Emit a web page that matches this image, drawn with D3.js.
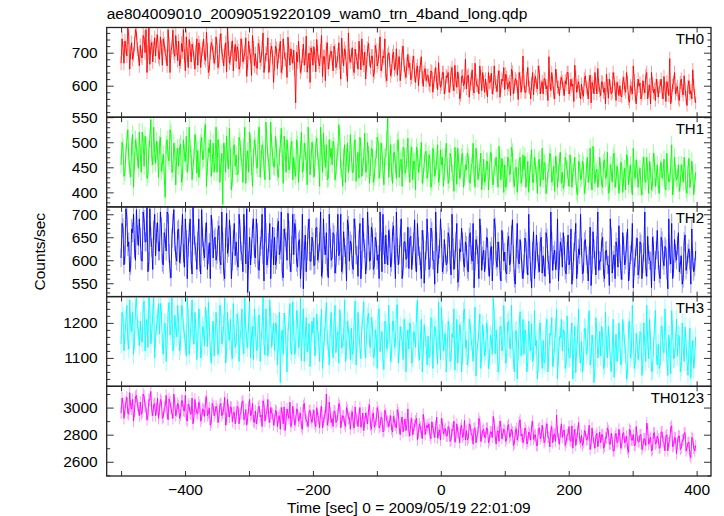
<!DOCTYPE html>
<html>
<head>
<meta charset="utf-8">
<script src="https://cdn.jsdelivr.net/npm/d3@7"></script>
<style>
  html, body { margin: 0; padding: 0; background: #fff; }
  svg { display: block; }
  text { font-family: "Liberation Sans", Arial, Helvetica, sans-serif; }
</style>
</head>
<body>
<svg id="chart" width="724" height="516"></svg>
<script>
// ---------------- data ----------------
const title = "ae804009010_20090519220109_wam0_trn_4band_long.qdp";
const xLabel = "Time [sec] 0 = 2009/05/19 22:01:09";
const yLabel = "Counts/sec";
const bandNames = ["TH0", "TH1", "TH2", "TH3", "TH0123"];
const timeStart = -500;   // time of first bin (sec)
const timeStep = 1.5;     // bin spacing (sec)
const errBinSec = 1.5;    // exposure used for Poisson error bars
const xTicks = [-500, -400, -300, -200, -100, 0, 100, 200, 300, 400];
const xTickLabels = [-400, -200, 0, 200, 400];

// each band: even bins (A) and odd bins (B), interleaved in time
const th0A = [
668,712,735,690,748,701,680,726,760,695,
722,684,745,770,700,665,731,712,690,754,
680,716,742,698,660,725,707,768,689,714,
735,672,703,690,748,655,712,726,684,701,
662,718,694,741,676,708,650,731,699,685,
720,671,758,690,705,642,712,684,736,698,
674,705,660,722,688,745,669,700,631,714,
697,652,718,680,760,671,694,640,708,686,
668,712,690,735,655,703,679,747,662,690,
708,548,672,690,655,726,684,641,699,715,
662,690,740,671,705,628,688,712,650,697,
683,720,655,692,672,744,660,701,613,688,
690,652,711,676,735,648,680,702,664,728,
655,689,640,706,672,748,661,684,630,692,
678,645,702,660,632,688,651,720,640,666,
655,618,670,632,648,600,662,625,641,615,
632,598,641,610,655,588,622,604,640,596,
625,580,640,603,662,595,618,571,630,608,
590,632,605,648,578,616,601,660,585,612,
620,566,609,638,592,611,582,645,600,614,
588,625,603,570,641,597,615,558,622,605,
612,580,655,594,606,572,628,590,640,598,
575,620,600,688,585,611,560,630,596,608,
612,570,604,640,588,598,552,625,600,582,
605,568,630,590,612,548,598,640,575,601,
570,610,592,635,562,598,580,620,555,594,
600,566,625,580,610,550,592,660,572,588,
598,560,615,578,640,585,545,605,590,620,
565,600,580,628,552,595,682,570,610,575,
598,555,620,572,590,540,615,585,648,570];
const th0B = [
742,668,715,776,650,730,695,770,712,660,
690,752,700,640,775,718,672,745,735,688,
748,662,725,690,770,640,718,700,752,676,
660,728,770,645,695,740,672,710,650,742,
730,655,712,685,762,640,700,720,668,748,
655,735,700,660,730,776,668,712,645,725,
718,650,742,672,700,628,735,690,752,660,
655,728,670,712,640,698,745,662,720,610,
720,652,705,640,742,680,625,700,712,668,
650,702,735,640,690,662,750,675,610,700,
718,642,700,660,752,688,615,730,672,705,
645,705,668,730,620,690,712,650,760,672,
715,640,688,650,700,742,662,620,712,680,
690,628,722,660,705,645,690,742,615,700,
630,690,648,712,670,615,700,662,625,695,
668,625,690,610,660,640,688,598,652,630,
605,645,580,632,612,670,595,640,575,630,
640,598,655,585,620,642,560,628,600,680,
628,565,620,590,668,600,575,628,640,580,
590,640,612,575,660,600,628,565,620,655,
635,590,612,650,575,622,598,640,580,690,
580,622,598,560,640,615,600,660,575,612,
622,590,555,610,640,578,650,595,570,625,
590,615,640,575,620,605,662,580,612,560,
578,620,596,560,632,610,575,605,652,585,
612,580,545,600,620,575,640,590,610,570,
570,610,590,640,560,600,575,615,545,620,
608,572,595,630,560,602,640,578,555,600,
595,620,560,590,612,570,545,602,640,588,
560,610,585,630,565,598,575,560,600,548];

const th1A = [
455,488,440,502,470,431,515,462,490,448,
478,520,452,493,436,507,470,530,458,484,
495,442,476,390,505,463,518,447,482,470,
452,496,430,478,512,460,488,425,470,500,
484,445,510,468,535,450,479,432,498,462,
440,490,455,376,482,512,447,470,428,495,
475,438,502,460,490,418,483,520,452,470,
492,448,530,466,485,425,505,460,540,472,
450,488,430,497,468,512,440,480,455,502,
470,432,495,458,520,446,482,415,490,465,
485,450,508,462,530,440,478,495,428,470,
455,492,438,480,512,445,470,420,498,462,
478,440,505,460,428,490,452,518,446,475,
450,486,430,470,500,445,482,415,472,548,
462,440,478,455,500,430,466,490,438,470,
448,476,425,462,490,440,470,418,458,482,
440,466,420,478,445,495,430,455,412,470,
452,425,470,438,490,416,460,442,478,430,
445,470,418,458,435,488,426,450,405,466,
430,462,440,478,415,452,436,492,425,448,
455,420,468,438,480,412,450,432,470,428,
445,410,462,436,485,420,452,398,466,440,
425,458,412,446,470,430,402,455,438,480,
440,418,462,428,475,410,448,432,395,458,
430,455,412,470,436,422,492,418,446,428,
445,410,465,432,398,455,420,478,425,440,
418,452,430,405,468,436,415,488,428,445,
435,410,455,425,470,398,442,418,462,430,
415,448,428,466,405,440,422,495,412,438,
430,402,455,420,445,398,468,425,440,418];
const th1B = [
500,432,478,525,445,492,410,505,470,520,
440,498,512,428,485,545,455,480,502,430,
510,455,432,495,470,525,440,498,415,488,
490,420,505,462,440,530,475,452,515,438,
430,498,465,520,412,488,505,458,440,530,
505,420,478,498,440,465,528,405,490,452,
435,510,470,420,530,465,440,498,412,505,
455,515,430,495,448,540,470,425,498,452,
512,440,470,528,418,482,505,445,492,425,
445,505,420,485,440,498,462,530,435,500,
430,495,470,412,490,518,450,425,505,488,
502,425,470,535,448,412,495,470,440,515,
440,498,422,480,510,432,470,440,500,418,
488,420,465,510,428,498,445,470,505,430,
495,418,480,428,505,462,412,488,445,508,
420,490,462,405,480,455,500,432,478,428,
475,410,488,432,462,420,485,470,440,498,
418,478,440,402,465,488,428,470,410,455,
478,420,452,498,410,465,440,478,432,420,
462,405,480,425,450,470,410,458,468,400,
410,470,435,490,425,448,400,462,418,475,
472,428,400,458,420,470,435,462,412,488,
460,398,440,478,420,452,472,410,462,418,
408,470,445,412,455,440,470,400,462,425,
462,398,445,420,488,405,455,440,410,470,
415,460,428,480,402,442,470,410,452,398,
460,400,448,475,415,455,395,440,465,410,
448,395,470,420,440,462,405,478,412,455,
398,460,440,410,478,420,452,395,470,425,
455,418,440,470,405,448,410,462,395,440];

const th2A = [
605,670,612,695,640,588,660,625,710,632,
650,598,688,640,575,712,628,665,610,682,
620,672,590,648,705,615,562,680,640,598,
668,612,700,585,645,628,690,570,655,618,
642,595,710,620,660,580,638,698,605,650,
612,675,590,640,560,702,628,655,598,680,
640,585,668,612,700,592,530,650,625,690,
605,660,578,645,612,715,590,638,560,672,
650,600,685,622,575,668,640,702,595,632,
612,668,585,645,600,538,655,620,690,598,
640,590,672,615,705,580,632,660,562,648,
605,655,590,700,620,575,662,612,688,598,
635,580,670,610,645,560,692,625,598,655,
600,660,588,640,612,705,575,632,655,590,
648,595,675,560,628,612,690,585,640,605,
582,652,610,688,575,630,598,665,550,622,
640,585,662,600,705,572,625,648,590,615,
595,650,568,628,602,680,560,618,640,585,
632,575,660,598,540,645,612,690,578,622,
600,648,565,630,610,672,585,620,555,642,
618,570,652,595,688,560,625,602,645,580,
592,640,568,625,540,662,600,618,575,650,
610,565,648,590,705,578,622,598,555,640,
585,632,570,655,600,548,618,680,590,612,
628,575,645,592,610,545,662,600,632,578,
598,650,560,622,590,690,572,612,640,585,
615,558,632,600,668,575,620,540,605,648,
580,635,592,705,565,612,598,650,555,622,
600,560,642,588,625,538,610,680,582,615,
632,575,610,560,655,590,625,548,600,585];
const th2B = [
680,590,712,630,575,668,700,600,655,690,
600,705,640,715,598,650,580,700,660,620,
705,595,660,620,700,580,648,710,610,665,
595,655,615,690,560,660,600,715,632,580,
690,570,650,605,682,612,560,670,645,600,
665,600,705,575,650,615,688,560,645,610,
598,700,620,575,655,712,600,590,670,612,
690,580,630,700,555,660,605,680,625,590,
590,670,612,705,562,650,600,665,575,700,
680,595,640,560,700,620,575,668,598,650,
588,670,600,640,565,690,612,585,700,600,
660,572,640,610,700,590,628,555,675,642,
590,690,612,565,680,600,640,570,705,598,
672,580,650,600,560,640,700,592,612,665,
585,662,612,705,590,650,560,640,602,672,
648,580,640,595,680,610,560,645,598,690,
580,670,600,548,640,612,690,575,645,590,
660,600,700,580,640,552,625,670,595,640,
580,650,612,680,598,632,560,655,610,575,
650,585,620,555,690,600,640,578,665,598,
575,640,590,655,612,548,680,592,620,560,
648,590,700,575,620,560,655,592,640,572,
585,660,600,550,640,612,580,690,600,628,
660,578,620,590,668,575,640,560,625,700,
570,640,610,555,672,590,625,568,705,600,
640,572,620,590,545,650,600,560,628,675,
578,660,590,640,555,612,680,585,630,568,
640,560,618,585,652,600,540,632,600,665,
570,650,600,630,578,690,592,560,645,600,
660,590,548,640,578,615,600,668,575,620];

const th3A = [
1140,1215,1168,1250,1125,1198,1230,1150,1275,1180,
1205,1145,1262,1190,1130,1240,1172,1275,1155,1210,
1168,1230,1110,1195,1150,1258,1182,1120,1222,1160,
1198,1135,1240,1170,1105,1215,1155,1265,1140,1185,
1150,1212,1120,1178,1245,1132,1190,1085,1205,1162,
1185,1130,1228,1160,1270,1118,1175,1210,1098,1168,
1140,1205,1155,1240,1112,1185,1130,1260,1160,1095,
1190,1128,1222,1150,1275,1108,1178,1140,1215,1165,
1120,1195,1142,1030,1180,1228,1135,1172,1255,1110,
1178,1125,1210,1150,1092,1240,1160,1118,1198,1145,
1170,1105,1225,1148,1190,1070,1162,1258,1130,1185,
1140,1200,1115,1175,1238,1128,1160,1090,1205,1150,
1185,1120,1262,1145,1172,1098,1210,1135,1168,1228,
1130,1190,1105,1160,1222,1118,1175,1068,1198,1145,
1170,1110,1205,1142,1252,1120,1160,1095,1188,1150,
1125,1185,1100,1168,1230,1118,1150,1060,1195,1140,
1162,1105,1212,1138,1180,1082,1150,1245,1120,1170,
1130,1188,1095,1158,1065,1210,1140,1175,1110,1240,
1150,1102,1195,1130,1168,1048,1142,1225,1115,1160,
1120,1180,1095,1155,1270,1112,1140,1078,1190,1135,
1160,1098,1205,1125,1150,1060,1178,1118,1232,1140,
1110,1168,1090,1145,1198,1102,1135,1040,1180,1125,
1150,1092,1210,1118,1165,1075,1140,1238,1105,1158,
1120,1175,1085,1142,1100,1200,1128,1058,1165,1112,
1148,1090,1182,1120,1235,1098,1138,1070,1170,1125,
1105,1160,1080,1135,1190,1092,1128,1045,1168,1115,
1150,1095,1175,1112,1060,1205,1120,1160,1085,1142,
1118,1170,1088,1135,1250,1098,1150,1065,1182,1110,
1140,1082,1190,1115,1160,1050,1130,1235,1098,1145,
1105,1160,1075,1132,1188,1090,1122,1042,1150,1100];
const th3B = [
1230,1120,1205,1150,1265,1175,1110,1240,1190,1135,
1160,1250,1120,1210,1275,1140,1225,1100,1195,1255,
1255,1140,1200,1090,1230,1165,1275,1135,1185,1250,
1120,1250,1185,1140,1275,1110,1200,1165,1230,1095,
1240,1100,1190,1135,1210,1260,1120,1175,1105,1230,
1110,1250,1140,1195,1085,1230,1150,1120,1255,1130,
1225,1090,1180,1135,1270,1150,1205,1100,1190,1240,
1120,1215,1090,1185,1140,1240,1105,1265,1130,1200,
1200,1080,1230,1150,1110,1195,1060,1210,1120,1260,
1110,1235,1130,1270,1180,1090,1215,1140,1075,1205,
1215,1135,1180,1090,1240,1120,1205,1150,1080,1230,
1100,1250,1160,1085,1200,1140,1265,1120,1180,1095,
1110,1205,1080,1230,1130,1190,1260,1100,1215,1140,
1215,1100,1180,1070,1240,1150,1090,1205,1125,1250,
1090,1205,1130,1240,1085,1190,1150,1210,1060,1180,
1200,1085,1175,1130,1265,1095,1210,1120,1160,1080,
1100,1215,1070,1190,1125,1260,1095,1180,1150,1060,
1205,1090,1170,1240,1120,1085,1195,1060,1230,1130,
1080,1210,1150,1090,1245,1120,1180,1070,1195,1105,
1200,1070,1165,1110,1220,1180,1060,1190,1120,1250,
1085,1200,1130,1250,1095,1175,1040,1190,1105,1210,
1180,1060,1205,1120,1090,1235,1150,1085,1200,1070,
1085,1190,1060,1170,1215,1100,1185,1040,1160,1210,
1180,1070,1220,1100,1160,1040,1190,1125,1240,1085,
1060,1185,1110,1200,1080,1165,1030,1215,1100,1175,
1190,1070,1230,1100,1150,1060,1210,1120,1090,1200,
1080,1210,1140,1040,1185,1100,1250,1070,1170,1095,
1175,1050,1200,1090,1150,1210,1060,1130,1235,1080,
1070,1190,1120,1240,1095,1165,1055,1180,1100,1210,
1165,1060,1200,1090,1140,1050,1185,1120,1070,1160];

const th0123A = [
2960,3030,2985,3075,2950,3010,3060,2975,3090,2995,
3040,2965,3085,3000,2945,3055,2980,3020,2940,3070,
2985,3045,2930,3010,2965,3065,2995,2920,3030,2975,
3010,2945,3050,2975,2915,3025,2960,3070,2940,2990,
2955,3015,2925,2980,3045,2940,2995,2890,3010,2965,
2990,2930,3030,2960,3075,2915,2975,3005,2895,2965,
2935,3000,2950,3040,2910,2985,2925,3060,2955,2900,
2975,2920,3010,2945,3050,2900,2965,2930,3000,2950,
2905,2970,2925,2840,2960,3005,2910,2950,3040,2890,
2950,2900,2985,2925,2860,3010,2935,2895,2975,2920,
2945,2880,3000,2920,2965,2850,2935,3100,2905,2960,
2920,2975,2890,2950,3010,2900,2935,2860,2980,2925,
2940,2880,3005,2910,2945,2855,2960,2895,2925,2985,
2870,2935,2855,2910,2970,2865,2920,2830,2950,2895,
2900,2840,2935,2870,2985,2850,2890,2820,2915,2875,
2825,2885,2800,2870,2920,2815,2855,2770,2890,2845,
2850,2795,2895,2820,2860,2775,2835,2920,2805,2845,
2790,2850,2760,2830,2745,2880,2810,2845,2780,2905,
2830,2775,2870,2800,2845,2740,2815,2895,2785,2840,
2780,2845,2760,2820,2935,2790,2815,2750,2860,2805,
2830,2770,2875,2795,2820,2735,2845,2790,2910,2805,
2770,2830,2750,2805,2860,2765,2800,2720,2850,2790,
2815,2755,2880,2780,2830,2740,2805,2945,2770,2820,
2780,2835,2745,2800,2760,2865,2790,2720,2825,2770,
2795,2740,2825,2765,2870,2735,2780,2700,2810,2760,
2740,2800,2715,2775,2830,2730,2765,2680,2810,2750,
2790,2730,2815,2750,2695,2840,2760,2800,2720,2780,
2745,2800,2715,2770,2885,2730,2780,2690,2815,2740,
2770,2705,2820,2740,2790,2680,2755,2865,2720,2775,
2735,2790,2700,2760,2815,2705,2745,2630,2770,2680];
const th0123B = [
3070,2920,3040,2960,3110,2990,2900,3080,3020,2940,
2950,3100,3010,2910,3060,3120,2940,3030,2990,2920,
3060,2920,3000,3090,2910,3040,2960,3100,2940,3030,
2920,3050,2980,3090,2900,3010,2950,2880,3060,2960,
3040,2900,2990,2935,3080,2960,2870,3030,2940,3010,
2890,3020,2940,2990,2870,3060,2930,3000,2960,2880,
3010,2880,2960,3050,2920,2870,3000,2940,3030,2890,
2880,3000,2930,2860,3020,2950,3060,2890,2960,2870,
2980,2860,2940,3000,2880,2830,2990,2920,2860,3010,
2870,2990,2900,2960,2840,3030,2910,2860,2980,2890,
2980,2860,2940,2850,3010,2900,2960,2870,3040,2890,
2860,2970,2900,3030,2850,2940,2880,3000,2920,2840,
2970,2850,2920,2860,3000,2890,2830,2960,2880,3020,
2840,2960,2880,3000,2850,2930,2820,2980,2900,2860,
2940,2820,2900,2850,2960,2800,2930,2870,2830,2990,
2790,2920,2840,2900,2760,2880,2820,2950,2800,2870,
2880,2770,2850,2780,2930,2810,2760,2880,2830,2790,
2860,2750,2840,2900,2780,2820,2740,2870,2800,2760,
2760,2880,2800,2730,2850,2790,2920,2750,2830,2780,
2850,2740,2820,2780,2880,2730,2830,2900,2770,2840,
2750,2860,2780,2840,2720,2820,2760,2890,2790,2740,
2850,2730,2820,2760,2900,2790,2720,2840,2770,2870,
2740,2850,2780,2710,2860,2800,2750,2820,2730,2880,
2830,2720,2800,2860,2750,2700,2840,2770,2890,2740,
2720,2830,2760,2800,2690,2850,2740,2790,2710,2820,
2800,2700,2780,2850,2730,2810,2680,2790,2740,2840,
2700,2810,2740,2790,2670,2830,2760,2720,2860,2750,
2800,2690,2770,2720,2840,2760,2680,2810,2730,2790,
2700,2820,2750,2680,2800,2740,2850,2710,2780,2660,
2790,2690,2760,2810,2680,2740,2650,2780,2700,2720];

const seriesA = [th0A, th1A, th2A, th3A, th0123A];
const seriesB = [th0B, th1B, th2B, th3B, th0123B];

// y-axis ranges and tick values per panel
const yDomains = [[504.5, 776.4], [371, 550], [521, 716], [1019, 1275], [2495, 3157]];
const yMajorTicks = [[600, 700], [400, 450, 500, 550], [550, 600, 650, 700], [1100, 1200], [2600, 2800, 3000]];
const yMinorStep = [20, 10, 10, 20, 100];
const yLabelTicks = [[600, 700], [400, 450, 500, 550], [550, 600, 650, 700], [1100, 1200], [2600, 2800, 3000]];

// ---------------- layout ----------------
const colors = ["#ff0000", "#00ff00", "#0000ff", "#00ffff", "#ff00ff"];
const plotLeft = 106.7, plotRight = 711, plotTop = 27.5, plotBottom = 476;
const panelH = (plotBottom - plotTop) / bandNames.length;
const fontSize = 15.5;

const svg = d3.select("#chart");
const x = d3.scaleLinear().domain([-522.5, 422.5]).range([plotLeft, plotRight]);

svg.append("text").attr("x", plotLeft).attr("y", 19)
  .attr("font-size", fontSize).attr("fill", "#000").text(title);

bandNames.forEach((name, i) => {
  const top = plotTop + i * panelH;
  const bottom = top + panelH;
  const y = d3.scaleLinear().domain(yDomains[i]).range([bottom, top]);
  const vals = d3.merge(seriesA[i].map((v, k) => [v, seriesB[i][k]]));
  const pts = vals.map((v, k) => ({ t: timeStart + k * timeStep, v: v, e: Math.sqrt(v / errBinSec) }));

  const clipId = "clip" + i;
  svg.append("clipPath").attr("id", clipId)
    .append("rect").attr("x", plotLeft).attr("y", top).attr("width", plotRight - plotLeft).attr("height", panelH);

  const g = svg.append("g").attr("clip-path", `url(#${clipId})`);
  g.selectAll("line.err").data(pts).enter().append("line")
    .attr("class", "err")
    .attr("x1", d => x(d.t)).attr("x2", d => x(d.t))
    .attr("y1", d => y(d.v - d.e)).attr("y2", d => y(d.v + d.e))
    .attr("stroke", colors[i]).attr("stroke-opacity", 0.4).attr("stroke-width", 1);
  g.append("path").datum(pts)
    .attr("d", d3.line().x(d => x(d.t)).y(d => y(d.v)))
    .attr("fill", "none").attr("stroke", colors[i]).attr("stroke-width", 0.9);

  const [d0, d1] = yDomains[i];
  const minor = d3.range(Math.ceil(d0 / yMinorStep[i]) * yMinorStep[i], d1, yMinorStep[i])
    .filter(v => !yMajorTicks[i].includes(v));
  const axStyle = sel => { sel.select(".domain").remove(); sel.selectAll("line").attr("stroke", "#333").attr("stroke-width", 1); };
  const txtStyle = s => s.selectAll("text").attr("font-size", fontSize).attr("fill", "#000")
      .attr("font-family", "Liberation Sans, Arial, sans-serif");

  svg.append("g").attr("transform", `translate(${plotLeft},0)`)
    .call(d3.axisLeft(y).tickValues(yMajorTicks[i]).tickSizeInner(-7).tickSizeOuter(0).tickPadding(9)
      .tickFormat(v => yLabelTicks[i].includes(v) ? String(v) : ""))
    .call(axStyle).call(txtStyle);
  svg.append("g").attr("transform", `translate(${plotLeft},0)`)
    .call(d3.axisLeft(y).tickValues(minor).tickSizeInner(-3.5).tickSizeOuter(0).tickFormat(""))
    .call(axStyle);
  svg.append("g").attr("transform", `translate(${plotRight},0)`)
    .call(d3.axisRight(y).tickValues(yMajorTicks[i]).tickSizeInner(-7).tickSizeOuter(0).tickFormat(""))
    .call(axStyle);
  svg.append("g").attr("transform", `translate(${plotRight},0)`)
    .call(d3.axisRight(y).tickValues(minor).tickSizeInner(-3.5).tickSizeOuter(0).tickFormat(""))
    .call(axStyle);

  svg.append("g").attr("transform", `translate(0,${top})`)
    .call(d3.axisTop(x).tickValues(xTicks).tickSizeInner(-5).tickSizeOuter(0).tickFormat(""))
    .call(axStyle);
  const isLast = i === bandNames.length - 1;
  svg.append("g").attr("transform", `translate(0,${bottom})`)
    .call(d3.axisBottom(x).tickValues(xTicks).tickSizeInner(-5).tickSizeOuter(0).tickPadding(8)
      .tickFormat(v => (isLast && xTickLabels.includes(v)) ? String(v).replace("-", "\u2212") : ""))
    .call(axStyle).call(txtStyle);

  svg.append("rect").attr("x", plotLeft).attr("y", top).attr("width", plotRight - plotLeft).attr("height", panelH)
    .attr("fill", "none").attr("stroke", "#222").attr("stroke-width", 1.3);

  svg.append("text").attr("x", 704).attr("y", top + 16.5).attr("text-anchor", "end")
    .attr("font-size", 15).attr("fill", "#000").text(name);
});

svg.append("text").attr("x", (plotLeft + plotRight) / 2).attr("y", 513)
  .attr("text-anchor", "middle").attr("font-size", fontSize).attr("fill", "#000").text(xLabel);
svg.append("text").attr("transform", `translate(45,${(plotTop + plotBottom) / 2}) rotate(-90)`)
  .attr("text-anchor", "middle").attr("font-size", fontSize).attr("fill", "#000").text(yLabel);
</script>
</body>
</html>
